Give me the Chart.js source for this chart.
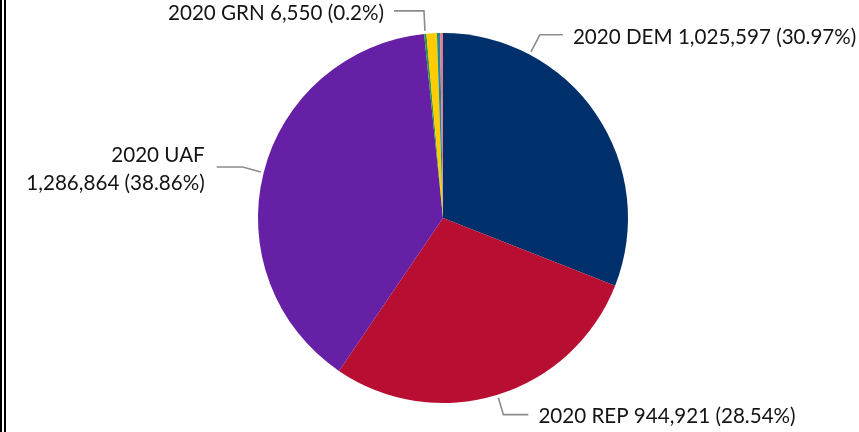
<!DOCTYPE html>
<html>
<head>
<meta charset="utf-8">
<script src="https://cdn.jsdelivr.net/npm/chart.js@4"></script>
<style>
  html, body { margin: 0; padding: 0; background: #fff; }
  #wrap { position: relative; width: 859px; height: 432px; }
  #frame { position: absolute; left: 0; top: 0; width: 0; height: 432px; border-left: 6px double #000; }
</style>
</head>
<body>
<div id="wrap">
  <canvas id="pieChart" width="859" height="432"></canvas>
  <div id="frame"></div>
</div>
<script>
// data
const parties = ['2020 DEM', '2020 REP', '2020 UAF', '2020 GRN', '2020 LBT', '2020 OTH', '2020 WTP'];
const votes = [1025597, 944921, 1286864, 6550, 30000, 9000, 8368];
const colors = ['#00306B', '#B80E31', '#6520A6', '#2E9446', '#FFCC00', '#1F8A9C', '#E57A8C'];

// which slices get a label, and how the label sits next to the pie
const labelled = [0, 1, 2, 3];
const labelLayout = {
  0: { frac: 0.25, dx: 9, dy: -17, run: 23, textDy: 3, side: 'right' },
  1: { frac: 0.5, dx: 5, dy: 17, run: 25, textDy: 2, side: 'right' },
  2: { frac: 0.5, dx: -18, dy: -5, run: -26, textDy: 0, side: 'left', twoLine: true },
  3: { frac: 0.5, dx: -1, dy: -20, run: -30, textDy: 2.5, side: 'left' }
};

const total = votes.reduce((a, b) => a + b, 0);
const fmtPct = v => parseFloat((v / total * 100).toFixed(2)) + '%';
const fmtNum = v => v.toLocaleString('en-US');

const FONT = '20.6px Lato';

const leaderLabels = {
  id: 'leaderLabels',
  afterDraw(chart) {
    const c = chart.ctx;
    const arcs = chart.getDatasetMeta(0).data;
    c.save();
    labelled.forEach(i => {
      const arc = arcs[i];
      const lay = labelLayout[i];
      const ang = arc.startAngle + lay.frac * (arc.endAngle - arc.startAngle);
      const r = arc.outerRadius + 3;
      const ax = arc.x + Math.cos(ang) * r;
      const ay = arc.y + Math.sin(ang) * r;
      const ex = ax + lay.dx, ey = ay + lay.dy;
      const hx = ex + lay.run;

      c.strokeStyle = '#8C8C8C';
      c.lineWidth = 1.6;
      c.beginPath();
      c.moveTo(ax, ay);
      c.lineTo(ex, ey);
      c.lineTo(hx, ey);
      c.stroke();

      c.fillStyle = '#141414';
      c.font = FONT;
      c.textBaseline = 'middle';
      const pct = '(' + fmtPct(votes[i]) + ')';
      if (lay.side === 'right') {
        c.textAlign = 'left';
        c.fillText(parties[i] + ' ' + fmtNum(votes[i]) + ' ' + pct, hx + 10, ey + lay.textDy);
      } else {
        c.textAlign = 'right';
        if (lay.twoLine) {
          c.fillText(parties[i], hx - 12, ey - 12);
          c.fillText(fmtNum(votes[i]) + ' ' + pct, hx - 12, ey + 16);
        } else {
          c.fillText(parties[i] + ' ' + fmtNum(votes[i]) + ' ' + pct, hx - 10, ey + lay.textDy);
        }
      }
    });
    c.restore();
  }
};

new Chart(document.getElementById('pieChart'), {
  type: 'pie',
  data: {
    labels: parties,
    datasets: [{
      data: votes,
      backgroundColor: colors,
      borderWidth: 0,
      hoverOffset: 0
    }]
  },
  options: {
    responsive: false,
    animation: false,
    layout: { padding: { left: 227, right: 200, top: 33, bottom: 29 } },
    plugins: {
      legend: { display: false },
      tooltip: { enabled: false }
    }
  },
  plugins: [leaderLabels]
});
</script>
</body>
</html>
